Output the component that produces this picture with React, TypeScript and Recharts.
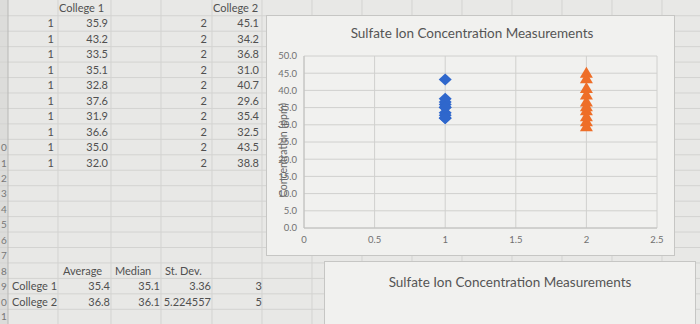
import { ScatterChart, Scatter, XAxis, YAxis, CartesianGrid } from 'recharts';

const collegeNames = ['College 1', 'College 2'];
const groupIds = [1, 2];
const college1 = [35.9, 43.2, 33.5, 35.1, 32.8, 37.6, 31.9, 36.6, 35.0, 32.0];
const college2 = [45.1, 34.2, 36.8, 31.0, 40.7, 29.6, 35.4, 32.5, 43.5, 38.8];

const xTicks = [0, 0.5, 1, 1.5, 2, 2.5];
const yTicks = [0, 5, 10, 15, 20, 25, 30, 35, 40, 45, 50];

const statHeaders = ['Average', 'Median', 'St. Dev.'];
const averages = ['35.4', '36.8'];
const medians = ['35.1', '36.1'];
const stDevs = ['3.36', '5.224557'];
const extraCol = ['3', '5'];

const chartTitle = 'Sulfate Ion Concentration Measurements';
const yTitle = 'Concentration (ppm)';

const series1 = college1.map((v) => ({ x: groupIds[0], y: v }));
const series2 = college2.map((v) => ({ x: groupIds[1], y: v }));

const ROW_H = 15.45;
const rowCenter = (i: number) => 8 + ROW_H * i;
const colLines = [8, 58, 111, 161, 212, 262, 312, 362, 412, 462, 512, 562, 612, 662];

const cellText = '#505050';

function Cell({ row, left, right, text }: { row: number; left?: number; right?: number; text: string }) {
  const style: any = {
    position: 'absolute',
    top: rowCenter(row) - 7,
    height: 14,
    lineHeight: '14px',
    fontSize: 11,
    color: cellText,
    whiteSpace: 'nowrap',
  };
  if (left !== undefined) style.left = left;
  if (right !== undefined) {
    style.right = 700 - right;
    style.textAlign = 'right';
  }
  return <div style={style}>{text}</div>;
}

const Diamond = (props: any) => {
  const { cx, cy } = props;
  return (
    <polygon
      points={`${cx},${cy - 6} ${cx + 6.5},${cy} ${cx},${cy + 6} ${cx - 6.5},${cy}`}
      fill="#2f67cc"
    />
  );
};

const Triangle = (props: any) => {
  const { cx, cy } = props;
  return (
    <polygon
      points={`${cx},${cy - 6} ${cx + 6.5},${cy + 5} ${cx - 6.5},${cy + 5}`}
      fill="#ee6e28"
    />
  );
};

const YTitle = (props: any) => {
  const vb = props.viewBox || { x: 7, y: 40, width: 30, height: 172 };
  const x = vb.x + 9;
  const y = vb.y + vb.height / 2 + 8;
  return (
    <text
      x={x}
      y={y}
      transform={`rotate(-90 ${x} ${y})`}
      textAnchor="middle"
      dominantBaseline="central"
      fontSize={10.5}
      fill="#666"
      fontFamily="Lato, sans-serif"
    >
      {yTitle}
    </text>
  );
};

export default function App() {
  const rows = Array.from({ length: 22 }, (_, i) => i);
  return (
    <div
      style={{
        position: 'relative',
        width: 700,
        height: 324,
        overflow: 'hidden',
        background: '#e8e8e6',
        fontFamily: 'Lato, sans-serif',
      }}
    >
      <style>{'body{margin:0}'}</style>
      <svg width={700} height={324} style={{ position: 'absolute', left: 0, top: 0 }}>
        <rect x={0} y={0} width={8} height={324} fill="#dcdcda" />
        {rows.map((i) => (
          <line key={'h' + i} x1={0} x2={700} y1={0.3 + ROW_H * (i + 1)} y2={0.3 + ROW_H * (i + 1)} stroke="#d3d3d1" />
        ))}
        {colLines.map((x, i) => (
          <line key={'v' + i} x1={x} x2={x} y1={0} y2={324} stroke={i === 0 ? '#b8b8b6' : '#d3d3d1'} />
        ))}
      </svg>

      {rows.filter((i) => i >= 9 && i <= 20).map((i) => (
        <div
          key={'rn' + i}
          style={{
            position: 'absolute',
            left: 1,
            top: Math.min(rowCenter(i) - 6, 310),
            lineHeight: '12px',
            fontSize: 10,
            color: '#777',
          }}
        >
          {String((i + 1) % 10)}
        </div>
      ))}

      <Cell row={0} left={59} text={collegeNames[0]} />
      <Cell row={0} left={213} text={collegeNames[1]} />
      {college1.map((v, i) => (
        <Cell key={'a' + i} row={i + 1} right={54} text={String(groupIds[0])} />
      ))}
      {college1.map((v, i) => (
        <Cell key={'b' + i} row={i + 1} right={108} text={v.toFixed(1)} />
      ))}
      {college2.map((v, i) => (
        <Cell key={'d' + i} row={i + 1} right={207} text={String(groupIds[1])} />
      ))}
      {college2.map((v, i) => (
        <Cell key={'e' + i} row={i + 1} right={259} text={v.toFixed(1)} />
      ))}

      <Cell row={17} left={63} text={statHeaders[0]} />
      <Cell row={17} left={115} text={statHeaders[1]} />
      <Cell row={17} left={165} text={statHeaders[2]} />
      {collegeNames.map((n, i) => (
        <Cell key={'n' + i} row={18 + i} left={12} text={n} />
      ))}
      {averages.map((v, i) => (
        <Cell key={'av' + i} row={18 + i} right={110} text={v} />
      ))}
      {medians.map((v, i) => (
        <Cell key={'md' + i} row={18 + i} right={160} text={v} />
      ))}
      {stDevs.map((v, i) => (
        <Cell key={'sd' + i} row={18 + i} right={211} text={v} />
      ))}
      {extraCol.map((v, i) => (
        <Cell key={'ex' + i} row={18 + i} right={262} text={v} />
      ))}

      <div
        style={{
          position: 'absolute',
          left: 267,
          top: 16,
          width: 407,
          height: 239,
          background: '#f1f1ef',
          outline: '1px solid #c6c6c4',
        }}
      >
        <div
          style={{
            position: 'absolute',
            left: 0,
            top: 9,
            width: 410,
            textAlign: 'center',
            fontSize: 13.5,
            lineHeight: '16px',
            color: '#555',
          }}
        >
          {chartTitle}
        </div>
        <ScatterChart width={407} height={239} margin={{ top: 40, right: 17, bottom: 7, left: 7 }}>
          <CartesianGrid stroke="#d0d0ce" />
          <XAxis
            type="number"
            dataKey="x"
            domain={[0, 2.5]}
            ticks={xTicks}
            interval={0}
            height={20}
            tickLine={false}
            tickSize={0}
            tickMargin={8}
            axisLine={{ stroke: '#c0c0be' }}
            tick={{ fontSize: 9.5, fill: '#707070', fontFamily: 'Lato, sans-serif' }}
            tickFormatter={(v: number) => String(v)}
          />
          <YAxis
            type="number"
            dataKey="y"
            domain={[0, 50]}
            ticks={yTicks}
            interval={0}
            width={30}
            tickLine={false}
            tickSize={0}
            tickMargin={7}
            axisLine={{ stroke: '#c0c0be' }}
            tick={{ fontSize: 9.5, fill: '#707070', fontFamily: 'Lato, sans-serif' }}
            tickFormatter={(v: number) => v.toFixed(1)}
            label={<YTitle />}
          />
          <Scatter name={collegeNames[0]} data={series1} shape={Diamond} isAnimationActive={false} />
          <Scatter name={collegeNames[1]} data={series2} shape={Triangle} isAnimationActive={false} />
        </ScatterChart>
      </div>

      <div
        style={{
          position: 'absolute',
          left: 325,
          top: 262,
          width: 370,
          height: 80,
          background: '#f1f1ef',
          outline: '1px solid #c6c6c4',
        }}
      >
        <div
          style={{
            position: 'absolute',
            left: 0,
            top: 12,
            width: 370,
            textAlign: 'center',
            fontSize: 13.5,
            lineHeight: '16px',
            color: '#555',
          }}
        >
          {chartTitle}
        </div>
      </div>
    </div>
  );
}
